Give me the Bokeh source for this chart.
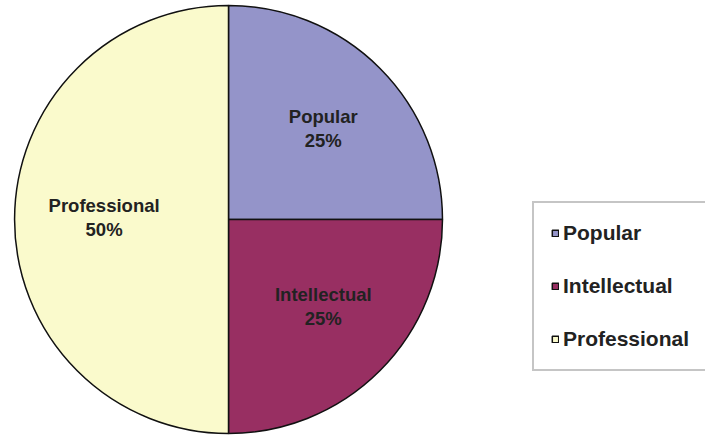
import numpy as np
from bokeh.plotting import figure
from bokeh.models import Range1d, Legend, LegendItem, ColumnDataSource
from bokeh.core.properties import value
from bokeh.embed import file_html
from bokeh.resources import INLINE

categories = ["Popular", "Intellectual", "Professional"]
shares = [25, 25, 50]
colors = ["#9494c9", "#982f62", "#fafacc"]

W, H = 705, 437
cx, cy, r = 228, H - 219, 214

frac = np.array(shares, dtype=float) / sum(shares)
cum = np.concatenate([[0], np.cumsum(frac)])
start = np.pi / 2 - 2 * np.pi * cum[:-1]
end = np.pi / 2 - 2 * np.pi * cum[1:]
mid = (start + end) / 2

src = ColumnDataSource(dict(
    cat=categories, start=start, end=end, color=colors,
    lx=cx + 0.6 * r * np.cos(mid) + 4, ly=cy + 0.59 * r * np.sin(mid) + 2,
    label=[f"{c}\n{s}%" for c, s in zip(categories, shares)],
))

p = figure(width=W, height=H, output_backend="svg", toolbar_location=None,
           x_range=Range1d(0, W), y_range=Range1d(0, H), min_border=0)
p.axis.visible = False
p.grid.visible = False
p.outline_line_color = None
p.background_fill_color = "white"

items = []
for i, c in enumerate(categories):
    rnd = p.wedge(x=cx, y=cy, radius=r, start_angle=start[i], end_angle=end[i],
                  direction="clock", fill_color=colors[i], line_color="#111111",
                  line_width=1.5)
    items.append(LegendItem(label=c, renderers=[rnd]))

p.text(x="lx", y="ly", text="label", source=src, text_align="center",
       text_baseline="middle", text_font=value("Liberation Sans"),
       text_font_style="bold", text_font_size="18.5px", text_color="#222222",
       text_line_height=1.15)

legend = Legend(items=items, location=(532, 66), orientation="vertical",
                border_line_color="#8c8c8c", border_line_width=2,
                background_fill_color="white", padding=17, spacing=27,
                glyph_width=8, glyph_height=8, label_height=26, label_width=160,
                label_standoff=4, label_text_font="Liberation Sans",
                label_text_font_style="bold", label_text_font_size="21px",
                label_text_color="#222222", margin=0)
p.add_layout(legend)

open("out.html", "w").write(file_html(p, INLINE))
